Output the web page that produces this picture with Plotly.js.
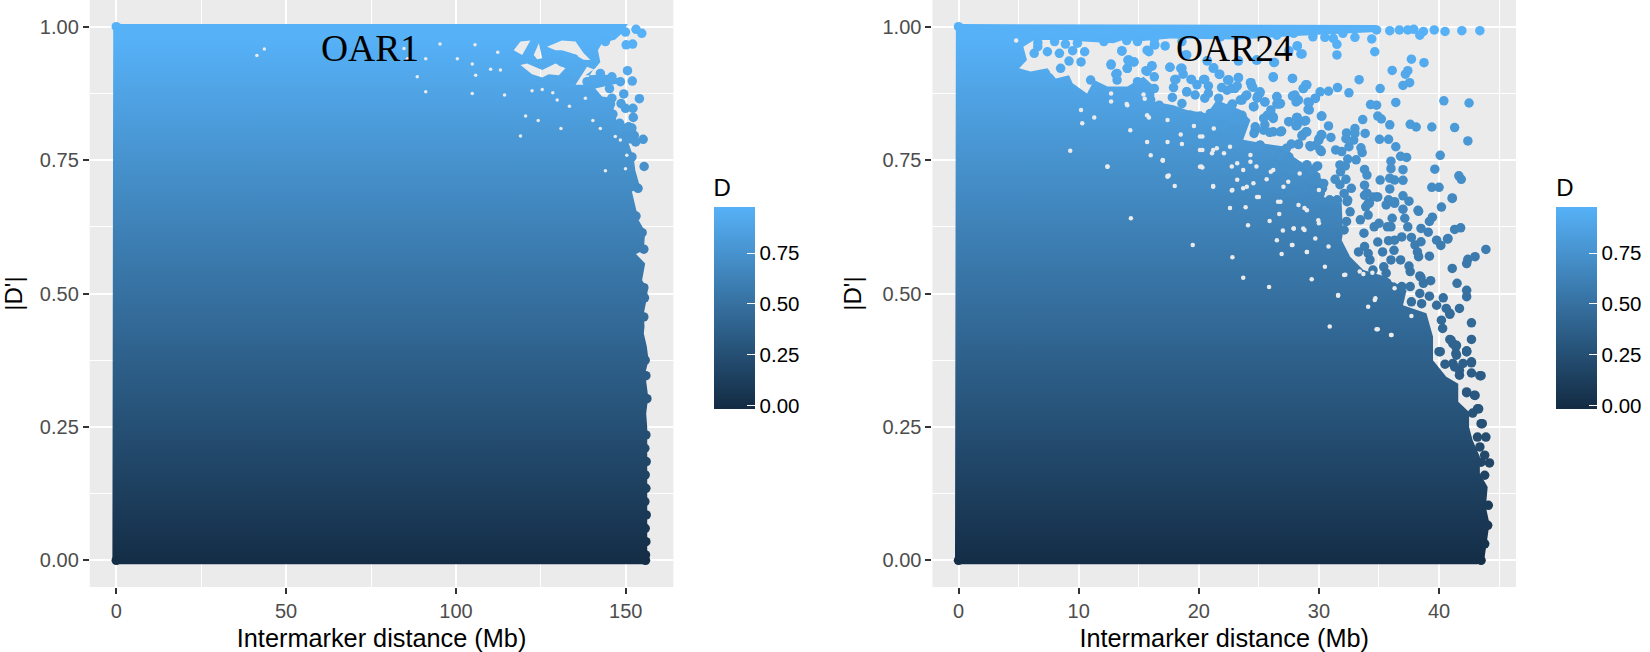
<!DOCTYPE html>
<html>
<head>
<meta charset="utf-8">
<script src="https://cdn.plot.ly/plotly-3.0.1.min.js"></script>
<style>html,body{margin:0;padding:0;background:#fff}</style>
</head>
<body>
<div id="chart" style="width:1650px;height:652px"></div>
<script>
// Values, [distance in Mb, |D'|]
// the solid part of each cloud is an outline, the sparse part is single points

var oar1Outline = [[-1.15,0.003],[-0.9,1.0],[0,1.005],[150.6,1.005],[148.9,0.9875],[146.9,0.976],[143,0.969],[141.8,0.956],[142.5,0.934],[141,0.922],[138.1,0.909],[145,0.91],[149.9,0.897],[145.9,0.891],[141,0.884],[143,0.869],[146.9,0.866],[146.4,0.844],[147.4,0.822],[152.8,0.8125],[153.8,0.781],[150.8,0.781],[152.3,0.756],[152.8,0.731],[154.3,0.697],[151.8,0.691],[152.8,0.6625],[153.8,0.6375],[155.7,0.616],[155.3,0.581],[153,0.574],[155.7,0.556],[154.8,0.525],[156.5,0.509],[156.2,0.491],[155.3,0.4625],[155.5,0.4375],[155.3,0.425],[156.2,0.4],[156.7,0.375],[155.7,0.35],[156.6,0.306],[156,0.275],[156.3,0.25],[156.3,0.2],[156.3,0.15],[156.3,0.1],[156.3,0.05],[156.3,0.002],[156,-0.0075],[0,-0.0075],[-0.9,-0.005]];

// grey openings in the OAR1 outline
var oar1Hole1 = [[129.3,0.956],[131.2,0.956],[134.2,0.95],[137.6,0.938],[139.6,0.9375],[137.6,0.95],[135.2,0.972],[131.2,0.974],[126.8,0.9625]];
var oar1Hole2 = [[117,0.956],[119.5,0.947],[121.9,0.974],[119,0.972]];
var oar1Hole3 = [[123.9,0.939],[125.4,0.941],[124.4,0.969],[122.9,0.947]];
var oar1Hole4 = [[119,0.928],[122.4,0.911],[125.4,0.905],[127.3,0.911],[130.3,0.909],[132.2,0.922],[129.3,0.931],[125.4,0.919],[120.9,0.931]];
var oar1Hole5 = [[135.2,0.891],[137.6,0.891],[140.5,0.92],[138.6,0.925]];

var oar1Points = [[154.7,0.9875],[153,0.995],[152,0.9675],[150.1,0.966],[150.5,0.9175],[151.9,0.898],[154,0.865],[145.2,0.884],[149.4,0.874],[152.1,0.847],[149.9,0.847],[148.6,0.856],[152.2,0.83],[145.9,0.866],[145.5,0.855],[146.2,0.836],[148.2,0.819],[150.8,0.8125],[151.8,0.81],[152.5,0.796],[155.1,0.789],[152.9,0.784],[149.8,0.772],[151.8,0.756],[155.4,0.738],[153.6,0.697],[153,0.645],[142.5,0.9125],[145.9,0.906],[148.4,0.897],[141,0.9],[144,0.972],[149.9,0.99],[155.3,0.583],[154.8,0.614],[155.3,0.511],[155.5,0.492],[155.3,0.456],[155.7,0.375],[155.9,0.346],[156.2,0.303],[0,0],[0,1],[155.8,0],[131.2,0.934],[134.7,0.94],[132.2,0.903],[134.2,0.916],[133.7,0.894],[138.6,0.897],[155.9,0.235],[155.6,0.21],[156,0.185],[155.7,0.16],[155.9,0.135],[155.6,0.11],[156,0.085],[155.7,0.06],[155.9,0.035],[155.8,0.01]];

var oar1Gaps = [[95.3,0.9675],[91.1,0.94],[100.4,0.94],[104.8,0.93],[112.3,0.952],[110.2,0.92],[113.1,0.919],[105.8,0.909],[84.7,0.959],[122.4,0.88],[125.4,0.8825],[128.5,0.876],[133.4,0.851],[138.1,0.866],[124.2,0.824],[120.5,0.8325],[140.3,0.824],[142.5,0.809],[119,0.795],[130.9,0.809],[129.8,0.8625],[150.3,0.759],[146.9,0.794],[148.4,0.7875],[144,0.73],[149.9,0.734],[105.6,0.966],[114.3,0.872],[104.8,0.875],[91.1,0.878],[41.4,0.946],[43.6,0.958],[85.7,0.94],[88.6,0.906]];

var oar24Outline = [[-0.29,0.003],[-0.22,1.0],[0,1.005],[34.8,1.003],[34.8,0.99],[30,0.985],[23.2,0.976],[17.6,0.978],[14.9,0.972],[13.8,0.976],[12.9,0.969],[10.4,0.972],[9.3,0.975],[7.7,0.975],[6.3,0.975],[5.4,0.9625],[5.7,0.9375],[5.05,0.922],[6,0.916],[7.4,0.922],[8.1,0.903],[9.2,0.909],[9.5,0.894],[10.7,0.875],[11.3,0.9],[12.4,0.888],[14.05,0.888],[15.4,0.906],[16.3,0.888],[16.3,0.8594],[17.9,0.853],[19,0.844],[20.7,0.8375],[21.5,0.8625],[23.5,0.844],[24.3,0.825],[23.7,0.788],[25.4,0.781],[27.3,0.775],[27.9,0.756],[28.7,0.744],[30.1,0.725],[30.4,0.681],[31.9,0.669],[32,0.613],[31.9,0.6],[32.6,0.569],[33.7,0.544],[35.6,0.5315],[37.3,0.506],[37,0.478],[38.95,0.463],[39.5,0.419],[39.5,0.375],[40.6,0.344],[41.6,0.331],[41.6,0.297],[42.5,0.278],[42.5,0.25],[42.8,0.225],[43.4,0.194],[43.4,0.1625],[44.05,0.1375],[43.9,0.1],[44.2,0.0687],[44,0.0375],[43.8,0.0063],[43.5,-0.005],[43.2,-0.0075],[0,-0.0075],[-0.22,-0.005]];

var oar24Points = [[43.4,0.9925],[41.9,0.9925],[40.5,0.991],[39.6,0.994],[38.7,0.991],[38.4,0.984],[37.9,0.995],[37.4,0.994],[36.7,0.994],[35.9,0.9925],[34.8,0.994],[34.4,0.977],[34.65,0.953],[33,0.98],[31.5,0.967],[31.5,0.947],[30.5,0.98],[29.5,0.981],[28.2,0.964],[28.5,0.949],[27.5,0.955],[26.3,0.933],[24.8,0.9375],[23.3,0.936],[37.7,0.939],[38.75,0.9325],[36.1,0.918],[37.4,0.9175],[37.2,0.911],[37.55,0.895],[37,0.89],[33.35,0.9006],[35.1,0.884],[31.55,0.886],[30.8,0.879],[32.5,0.876],[28.9,0.891],[28.7,0.884],[27.8,0.903],[26.2,0.905],[23.3,0.905],[24.3,0.895],[24.4,0.889],[22.5,0.9],[23.2,0.889],[22.75,0.884],[25.1,0.876],[24.9,0.87],[23.9,0.87],[23.45,0.8625],[26.5,0.868],[26.7,0.855],[26.5,0.855],[25.5,0.859],[24.55,0.85],[28,0.872],[27.8,0.87],[28.2,0.8625],[28.1,0.859],[29.7,0.866],[29.2,0.8575],[29.2,0.844],[30.2,0.8325],[36.4,0.858],[34.3,0.854],[34.8,0.853],[40.4,0.861],[42.5,0.857],[34.9,0.8325],[35.2,0.827],[33.65,0.826],[35.9,0.816],[37.6,0.817],[38.1,0.812],[39.4,0.812],[41.3,0.811],[42.4,0.786],[30.8,0.814],[27.5,0.822],[28.15,0.83],[28.8,0.823],[28.1,0.814],[25.7,0.834],[26.2,0.828],[25.5,0.816],[24.7,0.806],[25.9,0.802],[26.8,0.803],[22.75,0.828],[23.45,0.831],[33.85,0.8],[33,0.809],[33,0.8],[32.3,0.801],[32.25,0.79],[31,0.7925],[28.9,0.8025],[28.6,0.797],[30.2,0.798],[30,0.79],[29.75,0.778],[29.25,0.777],[28.3,0.78],[27.7,0.78],[35.05,0.789],[35.8,0.789],[36.4,0.775],[33.5,0.773],[33.6,0.764],[32.9,0.7875],[32.5,0.775],[31.9,0.766],[31.4,0.769],[32.4,0.752],[33.1,0.7506],[30.2,0.766],[40.1,0.759],[37.3,0.755],[36.8,0.757],[36,0.748],[36,0.734],[37,0.732],[39.65,0.733],[31.75,0.741],[32.2,0.739],[31.8,0.728],[29.9,0.739],[29,0.741],[29.5,0.731],[33.8,0.7325],[34,0.722],[35.1,0.7125],[35.9,0.716],[36.3,0.7125],[37,0.712],[33.8,0.703],[31.35,0.714],[32.25,0.714],[31.75,0.704],[30.2,0.706],[30.3,0.697],[32.7,0.697],[35.9,0.696],[39.4,0.699],[40,0.699],[41.1,0.679],[40.2,0.662],[37,0.683],[37.5,0.673],[32.1,0.6875],[32.35,0.672],[31.55,0.675],[30.9,0.675],[34.5,0.681],[34.9,0.681],[35.8,0.675],[36.3,0.672],[38.25,0.656],[33.8,0.684],[34.2,0.669],[33.9,0.6625],[30.1,0.6875],[27.9,0.731],[25.9,0.728],[27.05,0.719],[28.3,0.694],[29,0.7],[29.5,0.675],[27.6,0.691],[25.1,0.778],[25.8,0.769],[26.8,0.7625],[27.5,0.756],[26.35,0.744],[27,0.7375],[24.55,0.744],
[41.65,0.7206],[41.85,0.714],[41.1,0.678],[41.3,0.62],[41.8,0.623],[40.7,0.602],[43.9,0.5825],[43,0.569],[42.4,0.564],[42.3,0.556],[41.1,0.547],[41.5,0.519],[42.3,0.506],[42.3,0.494],[41.7,0.472],[40.9,0.461],[40.6,0.472],[42.7,0.445],[42.7,0.414],[41,0.4125],[41.4,0.4],[42.3,0.3925],[42.7,0.372],[43.5,0.346],[42.3,0.314],[43,0.309],[43.2,0.284],[43.6,0.256],[41.7,0.356],[41.15,0.369],
[40,0.391],[41.15,0.406],[41.4,0.3875],[42.3,0.391],[42.7,0.37],[42,0.369],[41.3,0.3625],[40.5,0.3675],[41.7,0.347],[42.7,0.351],[43.4,0.346],[42.3,0.3156],[42.95,0.3094],[43.3,0.284],[42.8,0.276],[43.5,0.256],[43.9,0.231],[43.2,0.231],[43.4,0.2125],[43.8,0.197],[44.2,0.1825],[43.5,0.184],[43.8,0.1594],[44.1,0.103],[44.05,0.0656],[43.8,0.031],
[40.1,0.391],[39.2,0.495],[39.3,0.524],[38.7,0.519],[38.4,0.533],[39.2,0.57],[40.75,0.603],[39.8,0.6],[40.15,0.59],[39.1,0.615],[38.5,0.622],[38.3,0.654],[39.45,0.643],[39.2,0.635],[37.4,0.625],[37,0.658],[37.15,0.641],[36.1,0.641],[36,0.625],[35.7,0.625],[36.3,0.669],[35.8,0.675],[35.6,0.666],[32.6,0.653],[33.75,0.613],[34.6,0.625],[35,0.6315],[33.45,0.638],[34.1,0.647],[34.8,0.681],[34.1,0.669],[34,0.688],[32.4,0.675],[32.3,0.635],[32.1,0.619],[36.9,0.606],[36.3,0.6],[35.8,0.599],[37.7,0.605],[38.5,0.597],[38,0.591],[38.2,0.578],[38.3,0.569],[36.25,0.581],[36.8,0.563],[35.3,0.578],[34.9,0.5965],[33.8,0.588],[33.3,0.578],[34.1,0.575],[34.25,0.563],[36,0.563],[35.4,0.55],[37.5,0.5515],[37.6,0.541],[38.5,0.53],[40.35,0.492],[39.8,0.478],[40.9,0.463],[40.2,0.45],[40.3,0.4345],[40.9,0.414],[41.45,0.403],[42.3,0.391],[41.45,0.3845],[36.7,0.489],[37.7,0.4845],[38.55,0.481],[38.4,0.5],[36.9,0.513],[37.6,0.513],[35.6,0.538],[34.5,0.544],[30.1,0.688],[30.9,0.675],[31.5,0.675],[30.65,0.656],[31.35,0.65],
[8.9,0.9675],[6.6,0.9625],[6.3,0.95],[7.4,0.953],[8.4,0.95],[9.5,0.955],[10.5,0.953],[9.2,0.9356],[8.5,0.922],[10.2,0.934],[13.6,0.955],[16.3,0.966],[15.7,0.956],[17.2,0.964],[18.6,0.972],[18.9,0.947],[14.2,0.9375],[14.6,0.934],[14.05,0.922],[12.7,0.93],[13.1,0.911],[16.1,0.927],[15.6,0.9175],[17.6,0.924],[18.6,0.922],[18.7,0.911],[20.7,0.936],[21.2,0.922],[21.7,0.9106],[22.4,0.9],[18,0.901],[19.35,0.901],[20.4,0.901],[17.9,0.886],[19.85,0.891],[20.8,0.889],[21.9,0.886],[19,0.878],[20.5,0.866],[17.8,0.8675],[16.7,0.853],[18.6,0.856],[19.7,0.872],[21.65,0.866],[22.75,0.853],[22.9,0.83],[19.3,0.834],[20.1,0.8325],[17.4,0.84],[20.95,0.8375],[21.9,0.816],[16.3,0.906],[16.3,0.884],[14.9,0.897],[11,0.9],[13.2,0.9],[16,0.8625],[14.6,0.881],[0,0],[0,1],[43.5,0],
[13.6,0.954],[14.05,0.922],[14.6,0.934],[14.1,0.9375],[12.7,0.928],[13.2,0.9125],[15.7,0.916],[16.1,0.926],[15.85,0.953],[16.35,0.966],[17.6,0.924],[18.5,0.922],[18.1,0.901],[19.4,0.901],[20.5,0.901],[22.5,0.9],[23.3,0.904],[24.35,0.895],[24.5,0.8863],[21.25,0.923],[21.75,0.911],[26.2,0.9063],[27.8,0.903],[29,0.891],[28.7,0.884],[30.1,0.878],[26.25,0.933],[28.6,0.949],[28.2,0.964],[20.7,0.936],[19,0.947],[23.3,0.936],[24.85,0.9375],
[19,0.878],[20.8,0.875],[22.35,0.881],[23,0.884],[24,0.872],[23.6,0.8625],[22.8,0.855],[25.1,0.878],[24.85,0.866],[25.5,0.859],[26.5,0.869],[26.8,0.856],[28,0.869],[28.3,0.8625],[29.7,0.8656],[29.1,0.859],[29.1,0.845],[30.25,0.8325],[26,0.844],[26.2,0.831],[24.6,0.85],[25.4,0.828],[27.5,0.822],[28.2,0.83],[28.9,0.824],[28.2,0.816],[24.7,0.8125],[24.6,0.8],[25.4,0.806],[26.2,0.803],[26.9,0.8044],[29,0.803],[28.6,0.795],[30.25,0.797],[30,0.7875],[29.3,0.775],[30.1,0.769],[28.3,0.779],[27.3,0.772],[25.1,0.778],[26,0.769],[26.8,0.7594],[27.9,0.744],[29,0.7406],[29.8,0.7375],[29.7,0.7156],[30.4,0.7063],[28.7,0.7188],[29.55,0.694],[30.1,0.675],[22.9,0.83],[23.6,0.834],[21.8,0.816],[22.2,0.809],[22.9,0.806],[23.6,0.825],
[26.5,0.984],[32,0.9875],[27.9,0.9875],[25.1,0.991],[31.2,0.978],[14,0.974],[16.3,0.976],[9.9,0.969],[8,0.972],[6.6,0.97],[12.1,0.972],[14.9,0.972],[21.8,0.981]];

var oar24Gaps = [[27.9,0.622],[28.7,0.622],[29,0.656],[30,0.6315],[27.75,0.591],[29,0.578],[30.5,0.55],[30.8,0.588],[31.6,0.497],[32.2,0.535],[33.4,0.541],[29.4,0.5265],[34.7,0.491],[36.05,0.422],[34.8,0.433],[37.7,0.458],[34.1,0.475],[30.9,0.438],[36.2,0.525],[36.3,0.51],
[17,0.749],[17.4,0.719],[20.2,0.738],[21.2,0.7015],[22.75,0.738],[18,0.7015],[21.1,0.763],[22.75,0.693],[23.7,0.697],[25,0.681],[26.6,0.672],[22.6,0.66],[23.9,0.6615],[28.8,0.66],[26.7,0.649],[25.9,0.636],[24.1,0.628],[27.9,0.622],[27,0.618],[28.8,0.619],[29.95,0.6375],[26.5,0.6],[27.8,0.591],[29.7,0.603],[29,0.578],[26.9,0.574],[22.8,0.568],[32.1,0.5346],[33.7,0.5365],[34.45,0.539],[31.6,0.496],[34.65,0.488],[34.9,0.433],[36,0.422],[25.85,0.512],[23.7,0.5296],[14.35,0.641],[19.5,0.591],[12.4,0.738],[25.65,0.714],[23.7,0.7315],[24.55,0.7065],[23.2,0.713],[27.45,0.7096],[28.4,0.725],[24.8,0.738],[26.2,0.7315],
[4.8,0.974],[10.2,0.844],[10.3,0.819],[11.3,0.83],[14,0.855],[15.4,0.873],[15.7,0.834],[17.4,0.825],[18.5,0.798],[20.3,0.794],[14.3,0.806],[15.7,0.784],[17.4,0.784],[16,0.759],[17,0.749],[21.2,0.769],[22.6,0.775],[19.6,0.814],[12.4,0.7375],[17.4,0.72],[20.1,0.7375],[21.2,0.7],[22.8,0.694],[9.3,0.7675],[18.6,0.78],[20.1,0.769],[10.4,0.8875],[7.8,0.916],
[12.7,0.875],[12.7,0.86],[14.05,0.853],[15.5,0.865],[15.85,0.83],[17,0.75],[20.3,0.736],[17.5,0.721],[20.3,0.769],[21.5,0.772],[22.1,0.763],[23.2,0.744],[24.3,0.747],[26,0.728],[24.85,0.681],[26.8,0.672],[28.3,0.666],[24,0.7],[27.05,0.7],[24.3,0.7594],[30,0.694],[20.1,0.794],[21.25,0.809]];

var blues = [[0,'#132B43'],[1,'#56B1F7']];
var colourMin = -0.02;
var colourMax = 0.976;
var legendTicks = [0,0.25,0.5,0.75];
var legendText = ['0.00','0.25','0.50','0.75'];
var panelGrey = '#EBEBEB';
var sans = '"Liberation Sans", Arial, sans-serif';

// outline and holes go in one trace, null breaks the path
function joinPaths(paths, col) {
    var out = [];
    paths.forEach(function(p, i) {
        if (i > 0) out.push(null);
        p.forEach(function(q) { out.push(q[col]); });
    });
    return out;
}

function bodyTrace(paths, xa, ya) {
    return {
        x: joinPaths(paths, 0), y: joinPaths(paths, 1), xaxis: xa, yaxis: ya,
        type: 'scatter', mode: 'lines', line: {width: 0}, fill: 'toself',
        fillgradient: {type: 'vertical', colorscale: blues, start: colourMin, stop: colourMax},
        hoverinfo: 'skip', showlegend: false
    };
}

function pointTrace(pts, xa, ya, barLeft) {
    return {
        x: pts.map(p => p[0]), y: pts.map(p => p[1]), xaxis: xa, yaxis: ya,
        type: 'scatter', mode: 'markers', showlegend: false,
        marker: {
            size: 9.5, color: pts.map(p => p[1]), colorscale: blues, cmin: colourMin, cmax: colourMax,
            line: {width: 0},
            colorbar: {
                x: barLeft / 1650, xanchor: 'left', xpad: 0, ypad: 0,
                y: 1 - 292.45 / 652, yanchor: 'middle',
                thickness: 40.5, thicknessmode: 'pixels', len: 233.7, lenmode: 'pixels',
                outlinewidth: 0, borderwidth: 0,
                tickmode: 'array', tickvals: legendTicks, ticktext: legendText,
                ticks: 'inside', ticklen: 8, tickwidth: 1, tickcolor: '#ffffff',
                tickfont: {family: sans, size: 20.5, color: '#000'},
                title: {text: 'D', side: 'top', font: {family: sans, size: 24, color: '#000'}}
            }
        }
    };
}

function gapTrace(pts, xa, ya, size) {
    return {
        x: pts.map(p => p[0]), y: pts.map(p => p[1]), xaxis: xa, yaxis: ya,
        type: 'scatter', mode: 'markers', showlegend: false, hoverinfo: 'skip',
        marker: {size: size, color: panelGrey, line: {width: 0}}
    };
}

function xAxis(left, right, range, step, anchor) {
    return {
        domain: [left / 1650, right / 1650], range: range, anchor: anchor,
        dtick: step, tick0: 0, ticks: 'outside', ticklen: 6, tickwidth: 2, tickcolor: '#333333',
        tickfont: {family: sans, size: 20, color: '#4D4D4D'},
        showgrid: true, gridcolor: '#ffffff', gridwidth: 2, zeroline: false, showline: false,
        minor: {dtick: step / 2, tick0: 0, showgrid: true, gridcolor: '#ffffff', gridwidth: 1, ticks: ''},
        title: {text: 'Intermarker distance (Mb)', font: {family: sans, size: 25.3, color: '#000'}, standoff: 9}
    };
}

function yAxis(anchor, standoff) {
    return {
        domain: [1 - 587 / 652, 1], range: [-0.05, 1.05], anchor: anchor,
        dtick: 0.25, tick0: 0, tickformat: '.2f', ticks: 'outside', ticklen: 6, tickwidth: 2, tickcolor: '#333333',
        tickfont: {family: sans, size: 20, color: '#4D4D4D'},
        showgrid: true, gridcolor: '#ffffff', gridwidth: 2, zeroline: false, showline: false,
        minor: {dtick: 0.125, tick0: 0, showgrid: true, gridcolor: '#ffffff', gridwidth: 1, ticks: ''},
        title: {text: "|D'|", font: {family: sans, size: 24, color: '#000'}, standoff: standoff}
    };
}

var data = [
    bodyTrace([oar1Outline, oar1Hole1, oar1Hole2, oar1Hole3, oar1Hole4, oar1Hole5], 'x', 'y'),
    pointTrace(oar1Points, 'x', 'y', 715.3),
    gapTrace(oar1Gaps, 'x', 'y', 3.5),
    bodyTrace([oar24Outline], 'x2', 'y2'),
    pointTrace(oar24Points, 'x2', 'y2', 1560),
    gapTrace(oar24Gaps, 'x2', 'y2', 4.5)
];

// the plotly colorbar only ticks one edge, so the left edge gets small lines
var barShapes = [];
[715.3, 1560].forEach(function(barLeft) {
    legendTicks.forEach(function(v) {
        var py = 404.7 - v * 202.8;
        barShapes.push({
            type: 'line', xref: 'paper', yref: 'paper',
            x0: barLeft / 1650, x1: (barLeft + 8) / 1650,
            y0: 1 - py / 652, y1: 1 - py / 652,
            line: {color: '#ffffff', width: 1}
        });
    });
});

var layout = {
    width: 1650, height: 652,
    margin: {l: 0, r: 0, t: 0, b: 0, pad: 0},
    paper_bgcolor: '#ffffff', plot_bgcolor: panelGrey,
    showlegend: false,
    xaxis: xAxis(90, 675, [-7.8, 164], 50, 'y'),
    yaxis: yAxis('x', 10),
    xaxis2: xAxis(934.7, 1519.6, [-2.17, 46.4], 10, 'y2'),
    yaxis2: yAxis('x2', 14),
    shapes: barShapes,
    annotations: [
        {xref: 'x', yref: 'y', x: 74.8, y: 0.96, text: 'OAR1', showarrow: false,
            font: {family: '"Liberation Serif", "Times New Roman", serif', size: 37.5, color: '#000'}},
        {xref: 'x2', yref: 'y2', x: 23, y: 0.96, text: 'OAR24', showarrow: false,
            font: {family: '"Liberation Serif", "Times New Roman", serif', size: 37.5, color: '#000'}}
    ]
};

Plotly.newPlot('chart', data, layout, {displayModeBar: false});
</script>
</body>
</html>
